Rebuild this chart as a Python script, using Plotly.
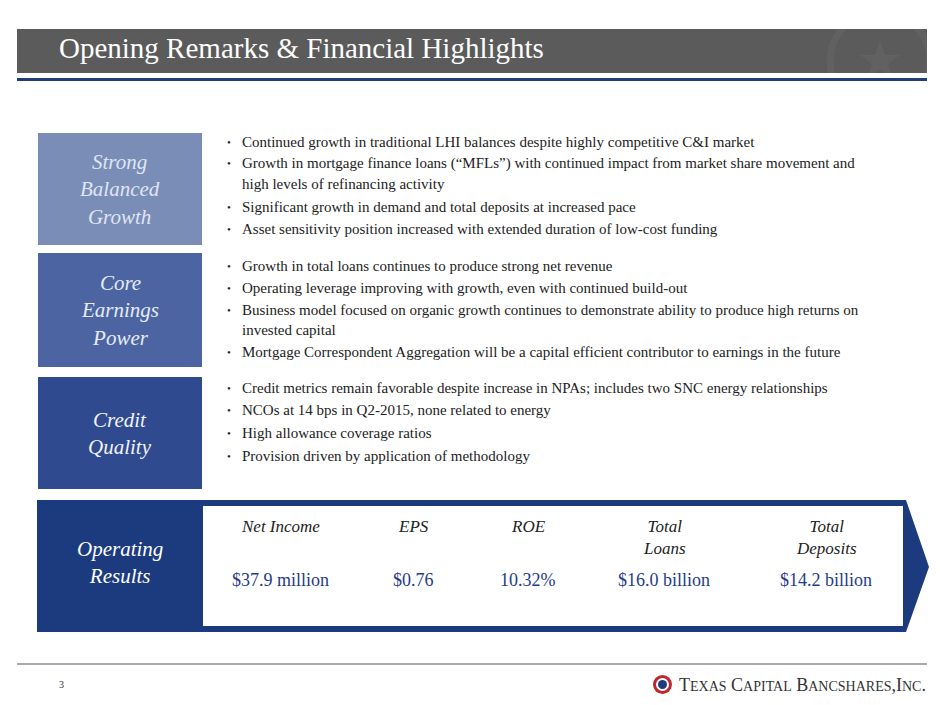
import plotly.graph_objects as go

title = "Opening Remarks & Financial Highlights"
section_labels = ["Strong<br>Balanced<br>Growth", "Core<br>Earnings<br>Power", "Credit<br>Quality"]
section_bullets = [
    ["Continued growth in traditional LHI balances despite highly competitive C&I market",
     "Growth in mortgage finance loans (“MFLs”) with continued impact from market share movement and",
     "   high levels of refinancing activity",
     "Significant growth in demand and total deposits at increased pace",
     "Asset sensitivity position increased with extended duration of low-cost funding"],
    ["Growth in total loans continues to produce strong net revenue",
     "Operating leverage improving with growth, even with continued build-out",
     "Business model focused on organic growth continues to demonstrate ability to produce high returns on",
     "   invested capital",
     "Mortgage Correspondent Aggregation will be a capital efficient contributor to earnings in the future"],
    ["Credit metrics remain favorable despite increase in NPAs; includes two SNC energy relationships",
     "NCOs at 14 bps in Q2-2015, none related to energy",
     "High allowance coverage ratios",
     "Provision driven by application of methodology"],
]
metric_names = ["Net Income", "EPS", "ROE", "Total<br>Loans", "Total<br>Deposits"]
metric_values = ["$37.9 million", "$0.76", "10.32%", "$16.0 billion", "$14.2 billion"]

FONT = "Liberation Serif"
box_colors = ["#7a8db7", "#4c65a2", "#2f4a8e"]
box_y = [(133, 245), (253, 367), (377, 489)]
bullet_y = [[142, 163, 184, 207, 229], [266, 288, 310, 330, 352], [388, 410, 433, 456]]
label_colors = ["#dfe5f2", "#e6ebf5", "#f0f3f9"]
col_x = [280, 413, 528, 664, 826]

shapes, ann = [], []
def A(**kw):
    kw.setdefault("showarrow", False)
    ann.append(kw)

shapes.append(dict(type="rect", x0=17, x1=927, y0=29, y1=73, fillcolor="#5b5b5b", line_width=0))
# faint watermark ring, clipped to header by white masks
shapes.append(dict(type="circle", x0=830, x1=930, y0=12, y1=110, line=dict(color="#616161", width=7)))
shapes.append(dict(type="path", path="M 880 40 L 885 55 L 900 55 L 888 64 L 893 78 L 880 69 L 867 78 L 872 64 L 860 55 L 875 55 Z",
                   fillcolor="#616161", line_width=0))
shapes.append(dict(type="rect", x0=800, x1=945, y0=0, y1=29, fillcolor="white", line_width=0))
shapes.append(dict(type="rect", x0=800, x1=945, y0=73, y1=120, fillcolor="white", line_width=0))
shapes.append(dict(type="rect", x0=927, x1=945, y0=0, y1=120, fillcolor="white", line_width=0))
shapes.append(dict(type="rect", x0=17, x1=927, y0=78, y1=81, fillcolor="#1f3c7c", line_width=0))
A(x=57, y=48, text=title, xanchor="left", yanchor="middle",
  font=dict(family=FONT, size=29, color="white"))

for i, (lab, bl) in enumerate(zip(section_labels, section_bullets)):
    y0, y1 = box_y[i]
    shapes.append(dict(type="rect", x0=38, x1=202, y0=y0, y1=y1, fillcolor=box_colors[i], line_width=0))
    A(x=120, y=(y0 + y1) / 2, text="<i>" + lab + "</i>", xanchor="center", yanchor="middle",
      font=dict(family=FONT, size=21, color=label_colors[i]))
    for j, t in enumerate(bl):
        y = bullet_y[i][j]
        if not t.startswith("   "):
            A(x=229, y=y, text="•", xanchor="center", yanchor="middle",
              font=dict(family=FONT, size=11, color="#222222"))
        A(x=240, y=y, text=t.strip(), xanchor="left", yanchor="middle",
          font=dict(family=FONT, size=15, color="#222222"))

shapes.append(dict(type="path", path="M 37 500 L 906 500 L 929 567 L 906 632 L 37 632 Z",
                   fillcolor="#1c3a7e", line_width=0))
shapes.append(dict(type="rect", x0=203, x1=903, y0=506, y1=626, fillcolor="white", line_width=0))
A(x=120, y=562, text="<i>Operating<br>Results</i>", xanchor="center", yanchor="middle",
  font=dict(family=FONT, size=21, color="white"))
for x, n, v in zip(col_x, metric_names, metric_values):
    A(x=x, y=515, text="<i>" + n + "</i>", xanchor="center", yanchor="top",
      font=dict(family=FONT, size=17, color="#222222"))
    A(x=x, y=580, text=v, xanchor="center", yanchor="middle",
      font=dict(family=FONT, size=18, color="#1f3c8a"))

shapes.append(dict(type="line", x0=17, x1=927, y0=664, y1=664, line=dict(color="#aaaaaa", width=2)))
A(x=57, y=684, text="3", xanchor="left", yanchor="middle",
  font=dict(family=FONT, size=10, color="#333333"))
shapes.append(dict(type="circle", x0=653, x1=672, y0=675, y1=694, fillcolor="#c0272d", line_width=0))
shapes.append(dict(type="circle", x0=656, x1=669, y0=678, y1=691, fillcolor="white", line_width=0))
shapes.append(dict(type="circle", x0=658, x1=667, y0=680, y1=689, fillcolor="#1f3c7c", line_width=0))
A(x=677, y=685, text="T<span style='font-size:14px'>EXAS</span> C<span style='font-size:14px'>APITAL</span> B<span style='font-size:14px'>ANCSHARES</span>,I<span style='font-size:14px'>NC</span>.",
  xanchor="left", yanchor="middle", font=dict(family=FONT, size=18, color="#333333"))

OFF = 8  # page body margin
fig = go.Figure()
fig.update_layout(width=940, height=705, margin=dict(l=0, r=0, t=0, b=0),
                  paper_bgcolor="white", plot_bgcolor="white", shapes=shapes, annotations=ann,
                  xaxis=dict(range=[OFF, 940 + OFF], visible=False, fixedrange=True),
                  yaxis=dict(range=[705 + OFF, OFF], visible=False, fixedrange=True), showlegend=False)
fig.write_html("out.html")
